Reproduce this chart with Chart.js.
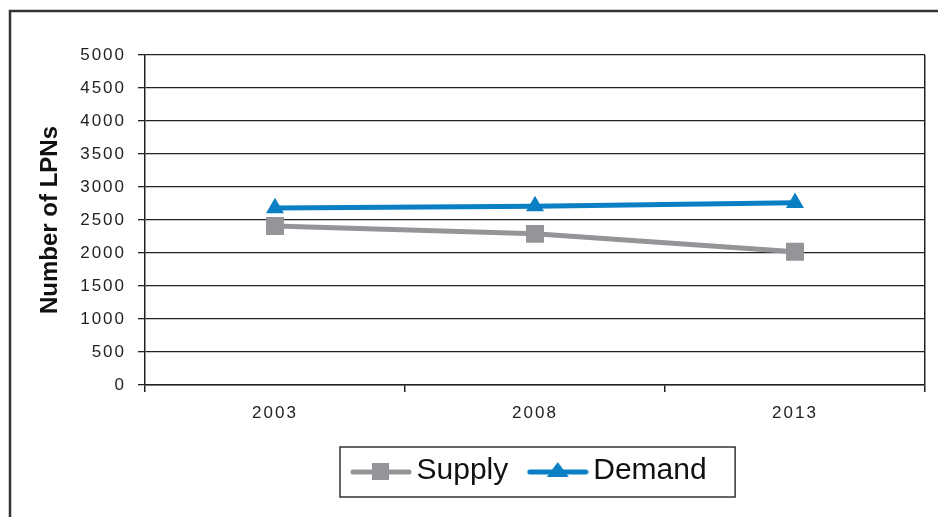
<!DOCTYPE html>
<html>
<head>
<meta charset="utf-8">
<script src="https://cdn.jsdelivr.net/npm/chart.js@4/dist/chart.umd.min.js"></script>
<style>
    html, body { margin: 0; padding: 0; background: #fff; }
    #wrap { width: 938px; height: 517px; }
</style>
</head>
<body>
<div id="wrap"><canvas id="chart" width="938" height="517"></canvas></div>
<script>
const years = ['2003', '2008', '2013'];
const supply = [2410, 2290, 2020];
const demand = [2680, 2710, 2760];
const yTickValues = [0, 500, 1000, 1500, 2000, 2500, 3000, 3500, 4000, 4500, 5000];

const GREY = '#939598';
const BLUE = '#0a7fc4';
const INK = '#222';
const FONT = "'Liberation Sans', Arial, sans-serif";

// line + marker swatch for the legend, like the office-style legend
function legendIcon(color, shape) {
    const c = document.createElement('canvas');
    c.width = 62;
    c.height = 24;
    const g = c.getContext('2d');
    g.strokeStyle = color;
    g.fillStyle = color;
    g.lineWidth = 5;
    g.lineCap = 'round';
    g.beginPath();
    g.moveTo(3, 13);
    g.lineTo(59, 13);
    g.stroke();
    if (shape === 'rect') {
        g.fillRect(22, 4, 17, 17);
    } else {
        g.beginPath();
        g.moveTo(31, 3);
        g.lineTo(42, 18);
        g.lineTo(20, 18);
        g.closePath();
        g.fill();
    }
    return c;
}
const legendIcons = [legendIcon(GREY, 'rect'), legendIcon(BLUE, 'triangle')];

const framePlugin = {
    id: 'frame',
    beforeDraw(chart) {
        const ctx = chart.ctx;
        ctx.save();
        ctx.strokeStyle = '#333';
        ctx.lineWidth = 2.5;
        ctx.strokeRect(10, 11, 1000, 1000);
        ctx.restore();
    },
    afterLayout(chart) {
        // shift the legend row to where the original sits
        chart.legend.left = 331.5;
    },
    afterDatasetsDraw(chart) {
        // tick labels are drawn after this (ticks.z = 1) - spaced digits
        chart.ctx.letterSpacing = '2px';
    },
    afterDraw(chart) {
        const ctx = chart.ctx;
        ctx.letterSpacing = '0px';
        const hb = chart.legend.legendHitBoxes;
        if (!hb || !hb.length) return;
        const last = hb[hb.length - 1];
        const cy = hb[0].top + hb[0].height / 2;
        ctx.save();
        ctx.strokeStyle = '#333';
        ctx.lineWidth = 1.5;
        ctx.strokeRect(hb[0].left - 20.5, cy - 24, last.left + last.width + 28.5 - (hb[0].left - 20.5), 50);
        ctx.restore();
    }
};

new Chart(document.getElementById('chart').getContext('2d'), {
    type: 'line',
    data: {
        labels: years,
        datasets: [
            {
                label: 'Supply',
                data: supply,
                borderColor: GREY,
                backgroundColor: GREY,
                borderWidth: 5,
                pointStyle: 'rect',
                pointRadius: 12.7,
                pointBorderWidth: 0,
                tension: 0
            },
            {
                label: 'Demand',
                data: demand,
                borderColor: BLUE,
                backgroundColor: BLUE,
                borderWidth: 5,
                pointStyle: 'triangle',
                pointRadius: 10.4,
                pointBorderWidth: 0,
                tension: 0
            }
        ]
    },
    options: {
        responsive: false,
        animation: false,
        events: [],
        layout: {padding: {left: 14, right: 13, top: 55, bottom: 21}},
        scales: {
            x: {
                offset: true,
                grid: {
                    offset: true,
                    color: c => c.tick ? 'transparent' : INK,
                    tickColor: INK,
                    lineWidth: 1.5,
                    tickLength: 7
                },
                border: {color: INK, width: 1.5},
                ticks: {
                    z: 1,
                    color: INK,
                    padding: 11,
                    font: {family: FONT, size: 17}
                },
                afterFit(scale) { scale.height = 42; }
            },
            y: {
                min: 0,
                max: 5000,
                afterBuildTicks(scale) {
                    scale.ticks = yTickValues.map(v => ({value: v}));
                },
                grid: {color: INK, tickColor: INK, lineWidth: 1.3, tickLength: 7},
                border: {color: INK, width: 1.5},
                ticks: {
                    z: 1,
                    color: INK,
                    padding: 12,
                    font: {family: FONT, size: 17},
                    callback: v => String(v)
                },
                title: {
                    display: true,
                    text: 'Number of LPNs',
                    color: '#111',
                    padding: {top: 22, bottom: 0},
                    font: {family: FONT, size: 24, weight: 'bold'}
                },
                afterFit(scale) { scale.width = 131; }
            }
        },
        plugins: {
            legend: {
                position: 'bottom',
                align: 'start',
                labels: {
                    usePointStyle: true,
                    pointStyleWidth: 41,
                    padding: 29,
                    color: '#111',
                    font: {family: FONT, size: 30},
                    generateLabels: chart => Chart.defaults.plugins.legend.labels.generateLabels(chart)
                        .map((item, i) => Object.assign(item, {pointStyle: legendIcons[i]}))
                }
            },
            tooltip: {enabled: false}
        }
    },
    plugins: [framePlugin]
});
</script>
</body>
</html>
